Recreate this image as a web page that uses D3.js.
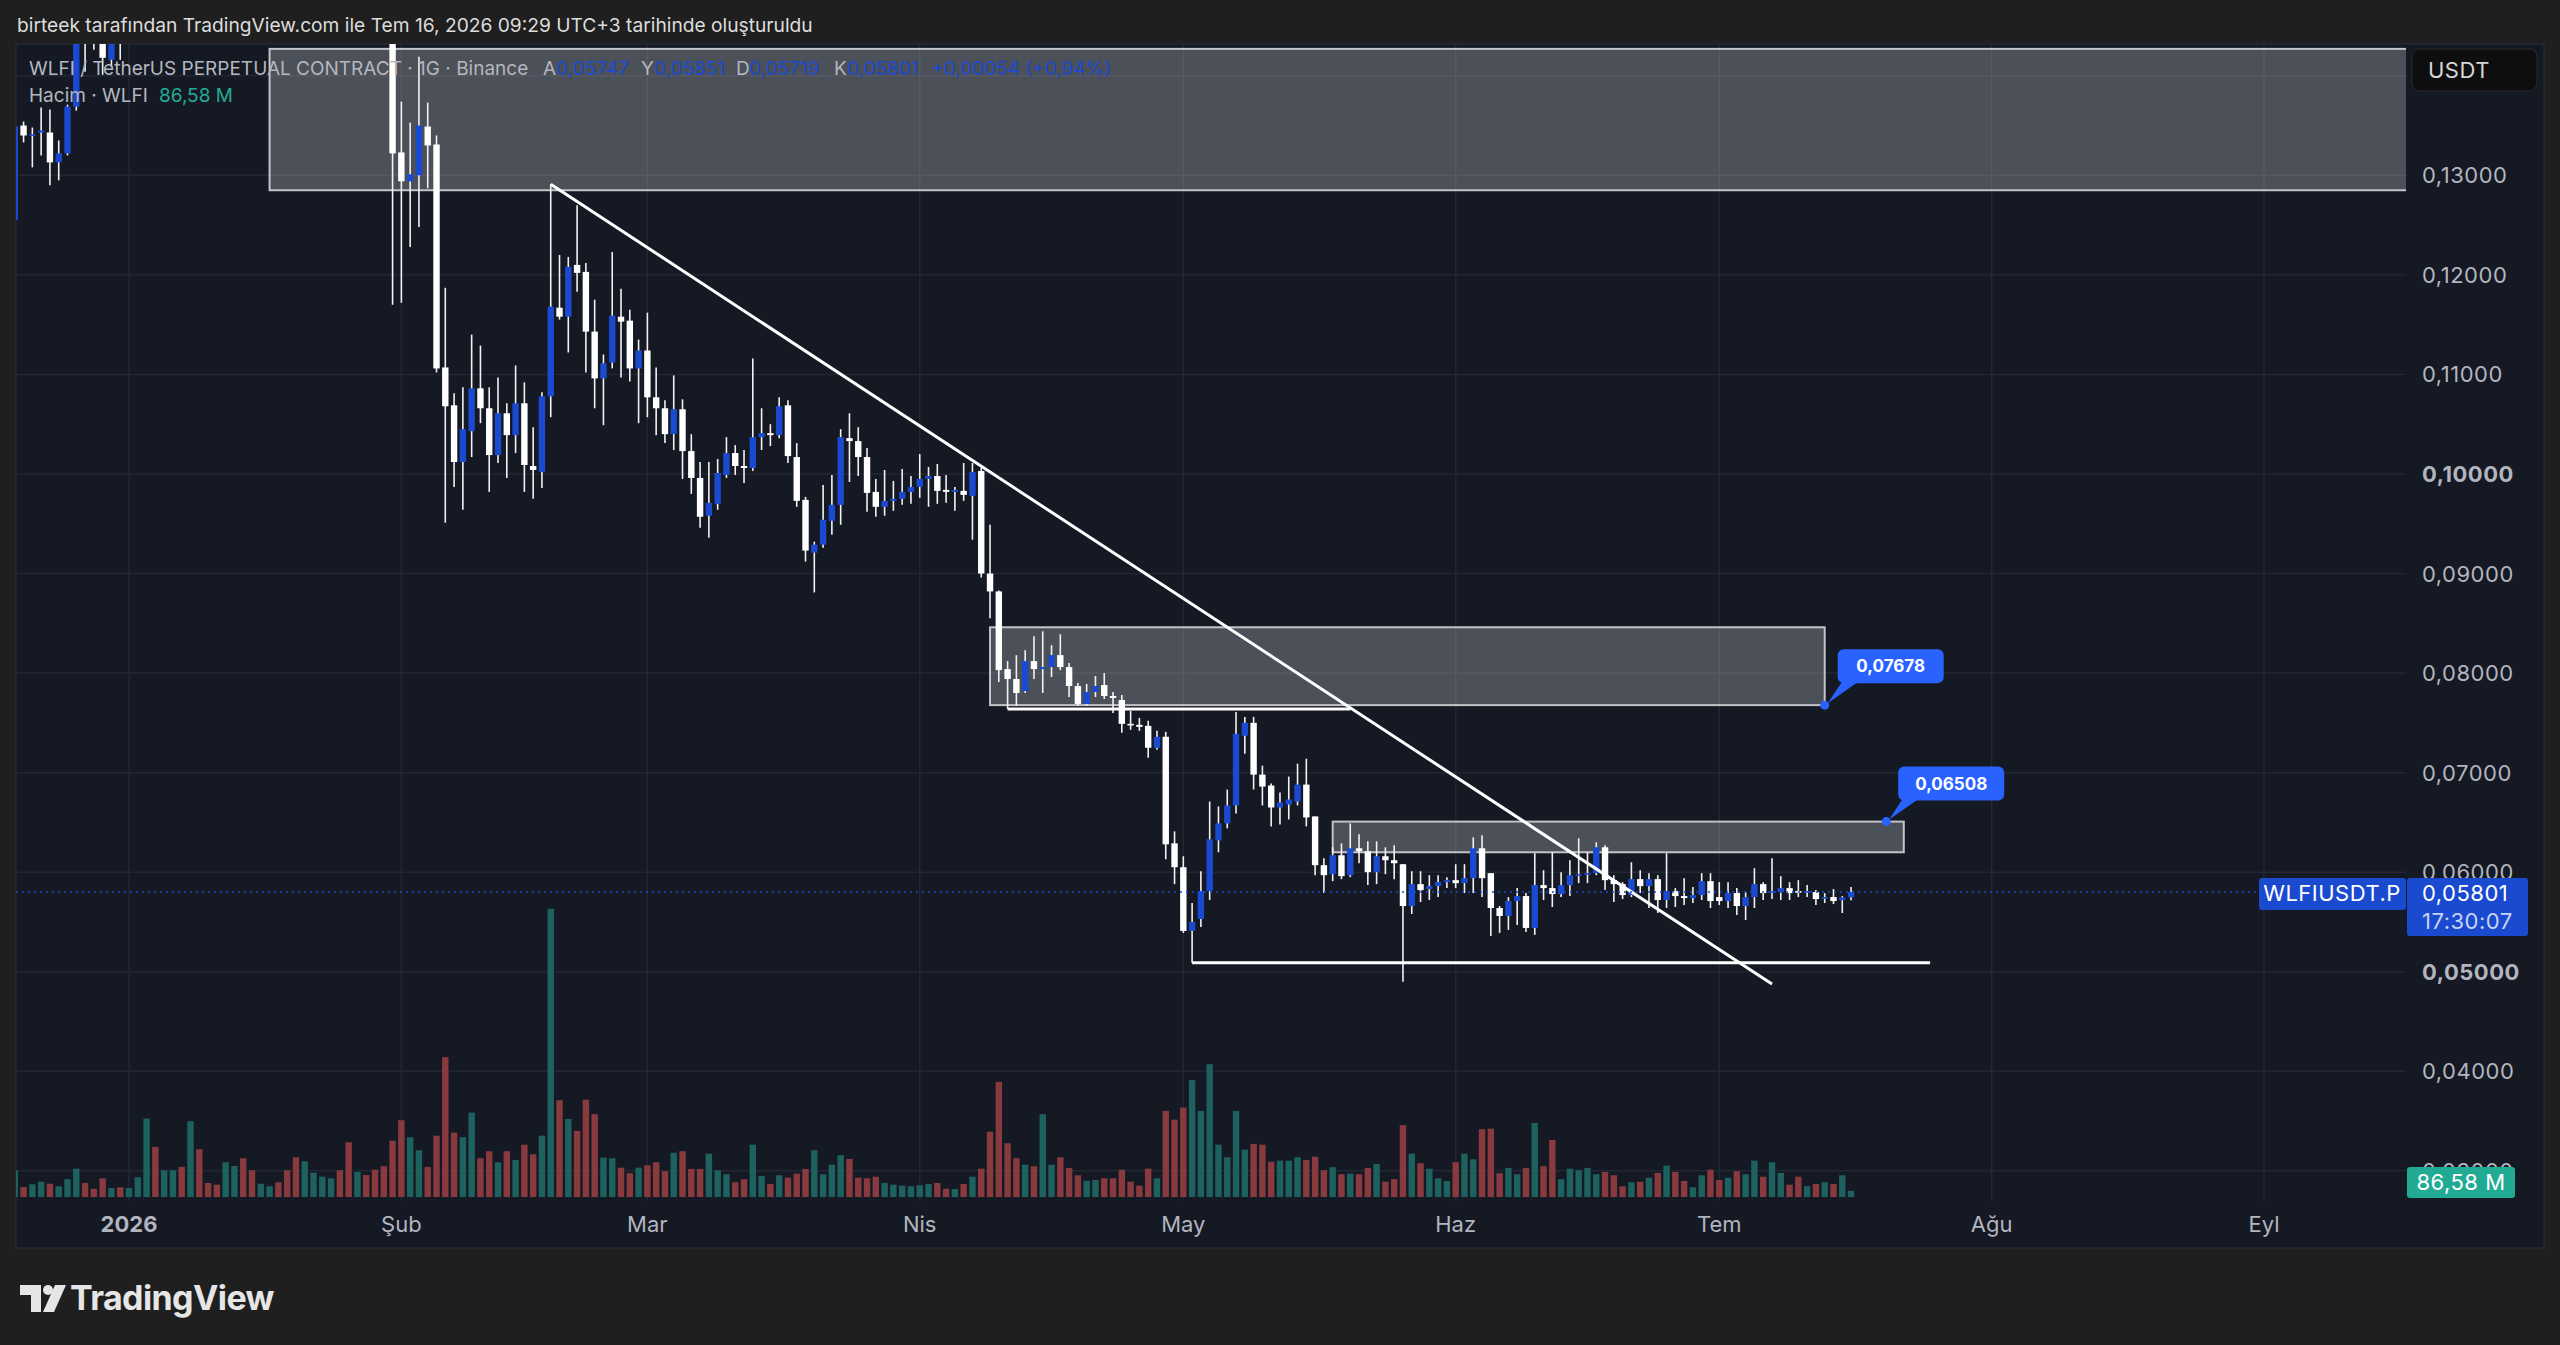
<!DOCTYPE html>
<html>
<head>
<meta charset="utf-8">
<script src="https://cdn.jsdelivr.net/npm/d3@7"></script>
<style>
  body { margin: 0; background: #1f1f1f; }
  svg { display: block; font-family: Inter, "Noto Sans", sans-serif; }
</style>
</head>
<body>
<svg id="chart"></svg>
<script>
// daily candles, first bar on 19 Dec 2025
const startDay = Date.UTC(2025, 11, 19);

const opens = [
  .1255,.1350,.1340,.1343,.1343,.1313,.1322,.1369,.1480,.1455,.1440,.1416,.1440,
  .1436,.1462,.1518,.1680,.1615,.1655,.1688,.1632,.1745,.1672,.1655,.1640,.1698,.1725,.1660,.1622,.1638,.1646,.1615,.1572,.1515,.1560,.1580,.1590,.1598,.1566,.1502,.1530,.1512,.1485,.1465,
  .1323,.1294,.1300,.1349,.1331,.1107,.1069,.1012,.1043,.1086,.1066,.1019,.1061,.1039,.1071,.1008,.1002,.1078,.1167,.1158,.1210,.1203,.1143,.1096,.1112,.1158,.1154,.1106,
  .1124,.1077,.1066,.1040,.1065,.1023,.0996,.0958,.0970,.0999,.1021,.1008,.1006,.1037,.1041,.1039,.1069,.1017,.0974,.0921,.0929,.0953,.0969,.1036,.1033,.1017,.0982,.0967,.0973,.0975,.0982,
  .0987,.0995,.0998,.0984,.0982,.0983,.0978,.1003,.0900,.0882,.0804,.0794,.0782,.0812,.0804,.0806,.0818,.0806,.0787,.0769,.0781,.0788,.0777,.0773,.0749,.0748,.0747,.0725,.0736,.0629,
  .0605,.0541,.0553,.0581,.0632,.0649,.0667,.0737,.0750,.0698,.0687,.0665,.0668,.0671,.0688,.0656,.0607,.0598,.0617,.0597,.0624,.0621,.0600,.0616,.0612,.0608,.0566,.0588,.0583,.0586,.0590,
  .0592,.0589,.0594,.0624,.0599,.0564,.0556,.0571,.0576,.0544,.0587,.0584,.0578,.0587,.0597,.0598,.0599,.0625,.0592,.0588,.0577,.0593,.0586,.0593,.0572,.0581,.0576,.0574,.0577,.0591,
  .0575,.0571,.0579,.0566,.0575,.0588,.0580,.0580,.0584,.0581,.0580,.0580,.0574,.0575,.0572,.05747
];
const highs = [
  .1352,.1354,.1348,.1368,.1366,.1335,.1371,.1500,.1510,.1475,.1462,.1455,.1452,
  .1470,.1530,.1720,.1710,.1680,.1700,.1705,.1780,.1760,.1690,.1670,.1712,.1745,.1738,.1675,.1650,.1655,.1652,.1622,.1580,.1575,.1592,.1602,.1608,.1605,.1575,.1545,.1540,.1520,.1495,.1470,
  .1374,.1353,.1419,.1373,.1340,.1187,.1081,.1087,.1140,.1129,.1087,.1097,.1071,.1109,.1092,.1047,.1082,.1291,.1220,.1218,.1270,.1212,.1175,.1120,.1223,.1186,.1165,.1135,
  .1162,.1107,.1074,.1099,.1075,.1040,.1012,.1012,.1015,.1037,.1029,.1024,.1116,.1066,.1050,.1077,.1074,.1031,.0977,.0932,.0989,.0999,.1045,.1061,.1047,.1026,.0995,.1004,.0993,.1005,.0998,
  .1020,.1007,.1010,.0999,.0987,.1011,.1011,.1006,.0949,.0883,.0812,.0818,.0823,.0837,.0842,.0828,.0839,.0810,.0790,.0789,.0797,.0800,.0781,.0778,.0762,.0755,.0752,.0742,.0741,.0641,
  .0616,.0569,.0601,.0671,.0666,.0683,.0761,.0756,.0756,.0707,.0689,.0680,.0696,.0709,.0714,.0656,.0614,.0625,.0629,.0649,.0638,.0631,.0631,.0625,.0627,.0608,.0601,.0601,.0597,.0597,.0595,
  .0608,.0608,.0635,.0637,.0599,.0566,.0575,.0584,.0579,.0619,.0602,.0620,.0600,.0612,.0634,.0620,.0630,.0627,.0597,.0590,.0610,.0602,.0599,.0597,.0619,.0584,.0594,.0585,.0599,.0599,
  .0590,.0590,.0584,.0580,.0604,.0590,.0614,.0596,.0590,.0592,.0587,.0582,.0579,.0583,.0576,.05851
];
const lows = [
  .1250,.1333,.1308,.1320,.1290,.1295,.1320,.1365,.1404,.1426,.1401,.1409,.1416,
  .1432,.1450,.1505,.1590,.1598,.1630,.1610,.1625,.1650,.1640,.1628,.1625,.1680,.1640,.1605,.1610,.1625,.1605,.1560,.1500,.1495,.1545,.1565,.1575,.1555,.1488,.1490,.1500,.1470,.1450,.1170,
  .1172,.1228,.1248,.1287,.1102,.0951,.0987,.0964,.1017,.1051,.0982,.1011,.0996,.1021,.0982,.0975,.0986,.1057,.1155,.1122,.1183,.1102,.1066,.1049,.1106,.1097,.1093,.1051,
  .1057,.1039,.1031,.1024,.0995,.0980,.0946,.0936,.0964,.0996,.0999,.0991,.1003,.1024,.1028,.1036,.1011,.0967,.0912,.0881,.0926,.0939,.0949,.0992,.0998,.0962,.0957,.0958,.0963,.0969,.0970,
  .0976,.0967,.0970,.0971,.0963,.0973,.0934,.0896,.0855,.0791,.0764,.0767,.0780,.0794,.0780,.0796,.0803,.0776,.0767,.0767,.0776,.0774,.0760,.0740,.0743,.0742,.0715,.0723,.0613,.0588,
  .0539,.0509,.0545,.0572,.0620,.0644,.0659,.0719,.0683,.0667,.0646,.0648,.0653,.0667,.0646,.0597,.0579,.0591,.0593,.0595,.0609,.0587,.0588,.0598,.0593,.0490,.0558,.0570,.0572,.0575,.0584,
  .0584,.0579,.0579,.0575,.0536,.0539,.0542,.0547,.0540,.0537,.0572,.0565,.0575,.0576,.0589,.0589,.0597,.0582,.0570,.0573,.0575,.0579,.0564,.0559,.0564,.0565,.0567,.0569,.0572,.0564,
  .0567,.0564,.0557,.0552,.0564,.0572,.0573,.0572,.0572,.0575,.0575,.0567,.0569,.0568,.0559,.05719
];
const closes = [
  .1349,.1340,.1341,.1345,.1313,.1322,.1369,.1480,.1455,.1440,.1418,.1440,.1436,
  .1462,.1518,.1680,.1615,.1655,.1688,.1632,.1745,.1672,.1655,.1640,.1698,.1725,.1660,.1622,.1638,.1646,.1615,.1572,.1515,.1560,.1580,.1590,.1598,.1566,.1502,.1530,.1512,.1485,.1465,.1322,
  .1294,.1301,.1350,.1330,.1106,.1068,.1012,.1045,.1086,.1066,.1019,.1061,.1039,.1071,.1009,.1004,.1078,.1168,.1158,.1208,.1202,.1143,.1096,.1111,.1159,.1153,.1106,.1124,
  .1077,.1066,.1040,.1065,.1023,.0996,.0957,.0971,.1001,.1021,.1008,.1006,.1037,.1041,.1039,.1068,.1018,.0973,.0923,.0929,.0954,.0969,.1037,.1033,.1017,.0981,.0967,.0973,.0975,.0982,.0987,
  .0995,.0998,.0983,.0982,.0984,.0979,.1002,.0900,.0882,.0803,.0794,.0780,.0812,.0804,.0806,.0818,.0806,.0787,.0769,.0781,.0787,.0777,.0775,.0749,.0748,.0746,.0725,.0736,.0628,.0605,
  .0541,.0550,.0581,.0633,.0649,.0667,.0739,.0750,.0698,.0686,.0665,.0670,.0673,.0688,.0655,.0607,.0597,.0617,.0596,.0624,.0621,.0600,.0616,.0612,.0609,.0566,.0588,.0582,.0586,.0590,.0592,
  .0589,.0594,.0624,.0594,.0564,.0556,.0571,.0576,.0544,.0587,.0584,.0578,.0587,.0597,.0598,.0599,.0625,.0592,.0588,.0577,.0593,.0586,.0593,.0572,.0581,.0576,.0574,.0577,.0591,.0571,
  .0571,.0579,.0566,.0575,.0588,.0579,.0581,.0584,.0579,.0580,.0581,.0573,.0575,.0571,.05747,.05801
];
// volume in millions WLFI
const volumes = [
  374,140,178,214,186,150,248,396,196,116,262,126,136,
  126,276,1096,700,374,374,420,1060,668,196,172,486,434,542,374,186,150,206,374,556,500,340,284,262,374,766,350,308,382,430,788,
  1074,836,654,420,858,1956,900,836,1180,542,640,486,640,518,732,598,858,4032,1354,1092,924,1362,1158,550,542,410,332,410,
  444,486,360,620,640,392,392,606,374,318,206,248,732,294,182,304,270,326,392,654,318,452,584,532,270,262,284,196,172,158,150,
  164,182,196,116,112,182,284,396,914,1610,752,542,452,430,1158,452,556,406,304,228,238,262,262,382,214,158,396,262,1204,1082,
  1250,1634,1204,1858,732,556,1204,662,742,732,494,508,508,556,518,564,374,416,318,326,318,406,462,214,248,1004,606,472,396,262,224,
  486,606,528,948,956,332,406,318,406,1036,430,798,248,396,374,406,318,350,304,150,206,214,270,336,438,350,224,136,304,382,
  238,270,360,318,508,284,486,336,172,284,150,182,206,182,304,86.58
];

const gridTicks = [0.03, 0.04, 0.05, 0.06, 0.07, 0.08, 0.09, 0.10, 0.11, 0.12, 0.13, 0.14];
const priceTicks = [0.03, 0.04, 0.05, 0.06, 0.07, 0.08, 0.09, 0.10, 0.11, 0.12, 0.13]; // 0.14 sits under the USDT box
const boldTicks = [0.05, 0.10];
const monthLabels = ["2026", "Şub", "Mar", "Nis", "May", "Haz", "Tem", "Ağu", "Eyl"];

// drawings: [date, price]
const topZone = { from: "2026-01-17", top: 0.1427, bottom: 0.1285 };
const midZone = { from: "2026-04-09", to: "2026-07-13", top: 0.0846, bottom: 0.07678 };
const lowZone = { from: "2026-05-18", to: "2026-07-22", top: 0.06508, bottom: 0.0620 };
const trendLine = [["2026-02-18", 0.1291], ["2026-07-07", 0.04877]];
const supportLine = [["2026-05-02", 0.0509], ["2026-07-25", 0.0509]];
const midLine = [["2026-04-11", 0.0764], ["2026-05-20", 0.0764]];

const W = 2560, H = 1345;
const svg = d3.select("#chart").attr("width", W).attr("height", H);

const pane = { left: 16, top: 44, right: 2544, bottom: 1248 };
const plot = { left: 16, top: 44, right: 2406, bottom: 1201 };

const blue = "#1a4ad0";
const fmt = v => d3.format(".5f")(v).replace(".", ",");
const parse = s => new Date(s + "T00:00:00Z");

const days = opens.map((d, i) => new Date(startDay + i * 864e5));

const x = d3.scaleUtc()
  .domain([parse("2026-01-01"), parse("2026-09-01")])
  .range([129, 2264]);
const y = d3.scaleLinear()
  .domain([0.02697, 0.14319])
  .range([plot.bottom, plot.top]);
const yVol = d3.scaleLinear()
  .domain([0, 4000])
  .range([1197, 911]);

// backgrounds
svg.append("rect").attr("width", W).attr("height", H).attr("fill", "#1f1f1f");
svg.append("rect")
  .attr("x", pane.left).attr("y", pane.top)
  .attr("width", pane.right - pane.left).attr("height", pane.bottom - pane.top)
  .attr("fill", "#151924").attr("stroke", "#2a2e39").attr("stroke-width", 1);

svg.append("text")
  .attr("x", 17).attr("y", 32)
  .attr("font-size", 19.2).attr("fill", "#dcdcdc")
  .text("birteek tarafından TradingView.com ile Tem 16, 2026 09:29 UTC+3 tarihinde oluşturuldu");

svg.append("clipPath").attr("id", "plotClip")
  .append("rect")
  .attr("x", plot.left).attr("y", plot.top)
  .attr("width", plot.right - plot.left).attr("height", plot.bottom - plot.top);

const plotG = svg.append("g").attr("clip-path", "url(#plotClip)");

// grid
const months = d3.utcMonth.range(parse("2026-01-01"), parse("2026-09-02"));
plotG.append("g")
  .selectAll("line").data(gridTicks).join("line")
  .attr("x1", plot.left).attr("x2", plot.right)
  .attr("y1", d => y(d)).attr("y2", d => y(d))
  .attr("stroke", "#232733").attr("stroke-width", 1.5);
plotG.append("g")
  .selectAll("line").data(months).join("line")
  .attr("x1", d => x(d)).attr("x2", d => x(d))
  .attr("y1", plot.top).attr("y2", plot.bottom)
  .attr("stroke", "#232733").attr("stroke-width", 1.5);

// volume
const barW = 6.4;
plotG.append("g")
  .selectAll("rect").data(volumes).join("rect")
  .attr("x", (d, i) => x(days[i]) - barW / 2)
  .attr("width", barW)
  .attr("y", d => yVol(d))
  .attr("height", d => yVol(0) - yVol(d))
  .attr("fill", (d, i) => closes[i] >= opens[i] ? "#1d625e" : "#893a3e");

// zones
function zone(z) {
  const x0 = x(parse(z.from));
  const x1 = z.to ? x(parse(z.to)) : plot.right + 2;
  plotG.append("rect")
    .attr("x", x0).attr("y", y(z.top))
    .attr("width", x1 - x0).attr("height", y(z.bottom) - y(z.top))
    .attr("fill", "rgba(255,255,255,0.24)")
    .attr("stroke", "#c4c4c8").attr("stroke-width", 2);
}
zone(topZone);
zone(midZone);
zone(lowZone);

// candles
const bodyW = 6.4;
const candles = plotG.append("g");
candles.selectAll("line").data(opens).join("line")
  .attr("x1", (d, i) => x(days[i])).attr("x2", (d, i) => x(days[i]))
  .attr("y1", (d, i) => y(highs[i])).attr("y2", (d, i) => y(lows[i]))
  .attr("stroke", "#f2f2f2").attr("stroke-width", 1.6);
candles.selectAll("rect").data(opens).join("rect")
  .attr("x", (d, i) => x(days[i]) - bodyW / 2)
  .attr("width", bodyW)
  .attr("y", (d, i) => y(Math.max(opens[i], closes[i])))
  .attr("height", (d, i) => Math.max(1.6, Math.abs(y(opens[i]) - y(closes[i]))))
  .attr("fill", (d, i) => closes[i] >= opens[i] ? blue : "#ffffff");

// lines
const linePath = d3.line().x(d => x(parse(d[0]))).y(d => y(d[1]));
[trendLine, supportLine, midLine].forEach(l => {
  plotG.append("path").attr("d", linePath(l))
    .attr("fill", "none").attr("stroke", "#ffffff").attr("stroke-width", 3);
});

// last price dotted line
const last = opens.length - 1;
plotG.append("line")
  .attr("x1", plot.left).attr("x2", plot.right)
  .attr("y1", y(closes[last])).attr("y2", y(closes[last]))
  .attr("stroke", blue).attr("stroke-width", 1.5).attr("stroke-dasharray", "2 4");

// callouts
function callout(dotX, dotY, bx, by, label) {
  const g = plotG.append("g");
  g.append("path")
    .attr("d", `M${bx + 6},${by + 30} L${bx + 24},${by + 30} L${dotX + 3},${dotY - 2} Z`)
    .attr("fill", "#2962ff");
  g.append("rect").attr("x", bx).attr("y", by).attr("width", 106).attr("height", 34)
    .attr("rx", 6).attr("fill", "#2962ff");
  g.append("text").attr("x", bx + 53).attr("y", by + 23)
    .attr("text-anchor", "middle").attr("font-size", 17).attr("font-weight", 700)
    .attr("fill", "#ffffff").text(label);
  g.append("circle").attr("cx", dotX).attr("cy", dotY).attr("r", 4.5).attr("fill", "#2962ff");
}
const p1x = x(parse(midZone.to)), p1y = y(midZone.bottom);
callout(p1x, p1y, p1x + 13, p1y - 56, fmt(midZone.bottom));
const p2x = x(parse("2026-07-20")), p2y = y(lowZone.top);
callout(p2x, p2y, p2x + 12, p2y - 55, fmt(lowZone.top));
// third callout, its label is above the pane
const p3x = x(parse("2026-10-07")), p3y = y(topZone.top);
plotG.append("path").attr("d", `M${p3x},${p3y - 2} L${p3x + 8},${plot.top} L${p3x + 22},${plot.top} Z`).attr("fill", "#2962ff");
plotG.append("circle").attr("cx", p3x).attr("cy", p3y).attr("r", 4.5).attr("fill", "#2962ff");

// legend
const legend = svg.append("g").attr("font-size", 19);
const l1 = 75;
legend.append("text").attr("x", 29).attr("y", l1).attr("fill", "#b4b7bf")
  .text("WLFI / TetherUS PERPETUAL CONTRACT · 1G · Binance");
const ohlc = [["A", opens[last], 543], ["Y", highs[last], 641], ["D", lows[last], 736], ["K", closes[last], 834]];
ohlc.forEach(([k, v, px]) => {
  legend.append("text").attr("x", px).attr("y", l1).attr("fill", "#b4b7bf").text(k);
  legend.append("text").attr("x", px + 13).attr("y", l1).attr("fill", blue).text(fmt(v));
});
const chg = closes[last] - closes[last - 1];
legend.append("text").attr("x", 931).attr("y", l1).attr("fill", blue)
  .text("+" + fmt(chg) + " (+" + d3.format(".2f")(chg / closes[last - 1] * 100).replace(".", ",") + "%)");
legend.append("text").attr("x", 29).attr("y", 102).attr("fill", "#b4b7bf").text("Hacim · WLFI");
legend.append("text").attr("x", 159).attr("y", 102).attr("fill", "#22ab94")
  .text(d3.format(".2f")(volumes[last]).replace(".", ",") + " M");

// price axis
const axisG = svg.append("g").attr("font-size", 22).attr("letter-spacing", 0.5);
axisG.selectAll("text").data(priceTicks).join("text")
  .attr("x", 2422).attr("y", d => y(d) + 8)
  .attr("fill", "#b2b5be")
  .attr("font-weight", d => boldTicks.includes(d) ? 700 : 400)
  .text(d => fmt(d));

axisG.append("rect").attr("x", 2412).attr("y", 49).attr("width", 125).attr("height", 42)
  .attr("rx", 8).attr("fill", "#0e0e0e").attr("stroke", "#2b2b2b");
axisG.append("text").attr("x", 2428).attr("y", 78).attr("fill", "#d6d6d6").text("USDT");

// last price labels
const ly = y(closes[last]);
axisG.append("rect").attr("x", 2259).attr("y", ly - 14).attr("width", 147).attr("height", 32)
  .attr("rx", 3).attr("fill", blue);
axisG.append("text").attr("x", 2332).attr("y", ly + 9).attr("text-anchor", "middle")
  .attr("fill", "#ffffff").text("WLFIUSDT.P");
axisG.append("rect").attr("x", 2407).attr("y", ly - 14).attr("width", 121).attr("height", 58)
  .attr("rx", 3).attr("fill", blue);
axisG.append("text").attr("x", 2422).attr("y", ly + 9).attr("fill", "#ffffff").text(fmt(closes[last]));
axisG.append("text").attr("x", 2422).attr("y", ly + 37).attr("fill", "#c9d3f5").text("17:30:07");

// volume label, drawn over the 0,03000 tick as in the original
axisG.append("rect").attr("x", 2407).attr("y", 1167).attr("width", 108).attr("height", 31)
  .attr("rx", 3).attr("fill", "#22ab94");
axisG.append("text").attr("x", 2461).attr("y", 1190).attr("text-anchor", "middle")
  .attr("fill", "#ffffff").text(d3.format(".2f")(volumes[last]).replace(".", ",") + " M");

// time axis
svg.append("g").attr("font-size", 22)
  .selectAll("text").data(months).join("text")
  .attr("x", d => x(d)).attr("y", 1232)
  .attr("text-anchor", "middle")
  .attr("fill", "#b2b5be")
  .attr("font-weight", (d, i) => i === 0 ? 700 : 400)
  .text((d, i) => monthLabels[i]);

// TradingView logo
const logo = svg.append("g").attr("fill", "#e6e6e6");
logo.append("path").attr("d", "M20,1285 H41 V1312 H31 V1295 H20 Z");
logo.append("circle").attr("cx", 48).attr("cy", 1290).attr("r", 5);
logo.append("path").attr("d", "M55,1285 H66 L54,1312 H43 Z");
logo.append("text").attr("x", 70).attr("y", 1310)
  .attr("font-size", 34).attr("font-weight", 700).attr("letter-spacing", -0.6)
  .text("TradingView");
</script>
</body>
</html>
